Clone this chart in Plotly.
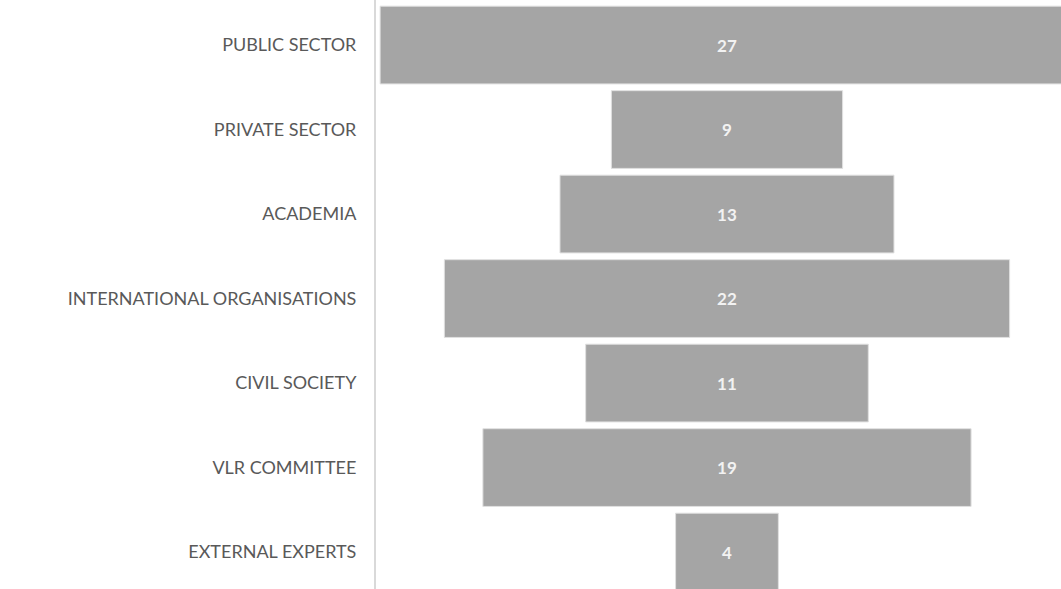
import plotly.graph_objects as go

categories = ["PUBLIC SECTOR", "PRIVATE SECTOR", "ACADEMIA", "INTERNATIONAL ORGANISATIONS",
              "CIVIL SOCIETY", "VLR COMMITTEE", "EXTERNAL EXPERTS"]
values = [27, 9, 13, 22, 11, 19, 4]

fig = go.Figure(go.Funnel(
    y=categories,
    x=values,
    textinfo="value",
    textposition="inside",
    insidetextfont=dict(family="Lato", size=17, color="#f2f2f2", weight="bold"),
    marker=dict(color="#a5a5a5", line=dict(color="#e0e0e0", width=1)),
    connector=dict(visible=False),
    cliponaxis=True,
))

fig.update_layout(
    width=1061, height=589,
    margin=dict(l=376, r=0, t=0, b=0),
    paper_bgcolor="white", plot_bgcolor="white",
    font=dict(family="Lato", size=16, color="#595959"),
    showlegend=False,
    funnelgap=0.08,
    xaxis=dict(visible=False, range=[-13.66, 13.0]),
    yaxis=dict(range=[6.437, -0.533], showline=True, linecolor="#d9d9d9", linewidth=2,
               ticks="", ticklabelstandoff=14, showgrid=False, zeroline=False,
               tickfont=dict(family="Lato", size=18, color="#595959")),
)

fig.write_html("out.html")
